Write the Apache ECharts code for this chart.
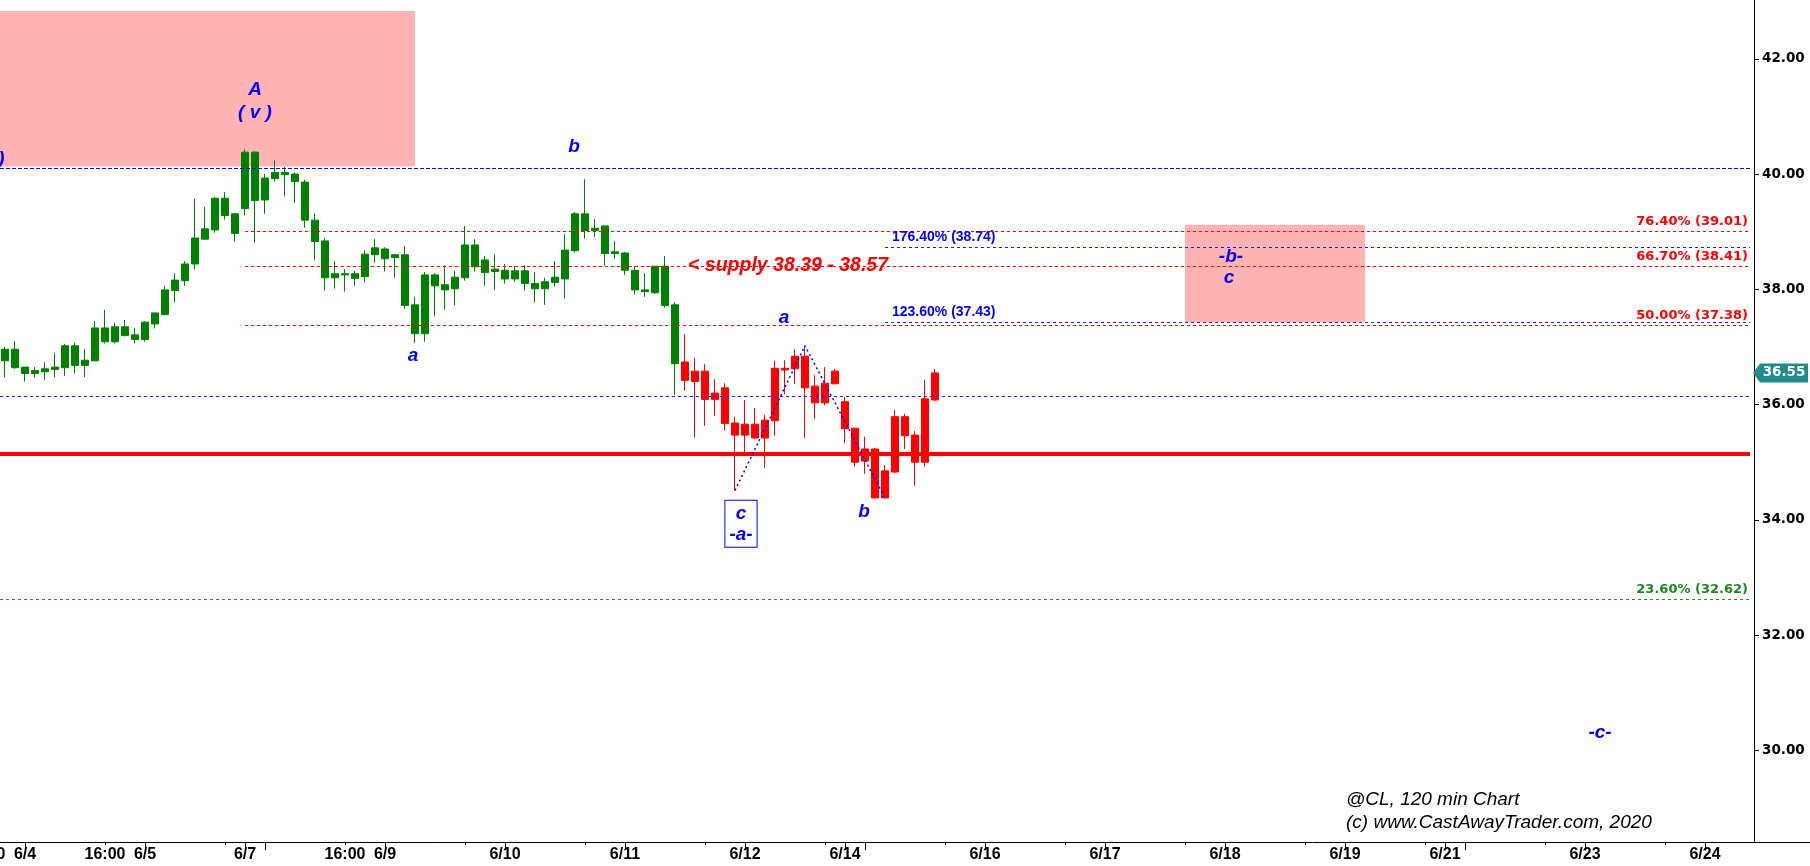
<!DOCTYPE html>
<html><head><meta charset="utf-8">
<script src="https://cdn.jsdelivr.net/npm/echarts@6/dist/echarts.min.js"></script>
<style>html,body{margin:0;padding:0;background:#fff;}#c{width:1810px;height:866px;}</style>
</head><body><div id="c"></div>
<script>
// ---------- data ----------
const SLOT_COUNT = 175;
const tickLabels = [[2,'6/4'],[10,'16:00'],[14,'6/5'],[24,'6/7'],[34,'16:00'],[38,'6/9'],[50,'6/10'],[62,'6/11'],[74,'6/12'],[84,'6/14'],[98,'6/16'],[110,'6/17'],[122,'6/18'],[134,'6/19'],[144,'6/21'],[158,'6/23'],[170,'6/24']];
const offAxisLabels = [[-2,'16:00']];
const majorTicks = [2,14,24,26,38,50,62,74,84,86,98,110,122,134,144,146,158,170];
const minorTicks = [10,22,34,46,58,70,82,94,106,118,130,142,154,166];
const yTicks = [30,32,34,36,38,40,42];

const openV  = [36.76,36.96,36.65,36.54,36.57,36.61,36.64,37.02,36.68,36.76,37.33,37.09,37.35,37.21,37.13,37.40,37.56,37.98,38.15,38.44,38.87,39.03,39.58,39.31,39.40,40.38,39.55,39.92,40.03,40.00,39.86,39.20,38.84,38.20,38.27,38.27,38.22,38.60,38.70,38.55,38.60,37.73,37.23,38.25,38.08,38.01,38.20,38.77,38.29,38.31,38.33,38.18,38.32,38.10,38.01,38.12,38.18,38.67,39.31,39.02,39.10,38.62,38.63,38.33,37.99,37.94,38.40,37.73,36.74,36.58,36.58,36.09,36.29,35.68,35.47,35.66,35.42,35.72,36.63,36.62,36.84,36.32,36.03,36.36,36.05,35.59,35.23,35.23,34.38,34.83,35.79,35.47,35.00,36.08];
const closeV = [36.96,36.64,36.54,36.59,36.62,36.65,37.02,36.68,36.77,37.33,37.09,37.35,37.20,37.13,37.43,37.59,37.99,38.16,38.44,38.89,39.05,39.58,39.28,38.97,40.38,39.54,39.93,40.03,39.99,39.87,39.20,38.83,38.20,38.27,38.25,38.19,38.61,38.72,38.53,38.60,37.72,37.23,38.25,38.06,37.99,38.21,38.77,38.39,38.51,38.35,38.18,38.32,38.10,38.01,38.13,38.21,38.68,39.31,39.02,39.06,38.62,38.65,38.33,37.99,37.96,38.40,37.72,36.71,36.42,36.40,36.09,36.20,35.67,35.47,35.66,35.42,35.73,36.63,36.60,36.84,36.29,36.03,36.37,36.58,35.58,35.00,35.02,34.38,34.85,35.79,35.46,35.00,36.10,36.55];
const lowV   = [36.47,36.62,36.40,36.47,36.43,36.47,36.50,36.54,36.48,36.76,37.06,37.06,37.18,37.06,37.09,37.32,37.56,37.77,38.06,38.34,38.86,38.98,39.21,38.83,39.28,38.81,39.31,39.87,39.61,39.50,39.07,38.50,37.98,38.01,37.96,38.06,38.12,38.46,38.31,38.20,37.66,37.07,37.09,37.53,37.65,37.72,38.15,38.31,38.06,37.99,38.10,38.13,37.98,37.77,37.73,38.05,37.84,38.64,38.88,38.91,38.41,38.53,38.25,37.91,37.87,37.92,37.68,36.17,36.24,35.43,35.63,35.81,35.55,34.51,35.11,35.40,34.90,35.46,36.18,36.36,35.42,35.75,35.99,36.36,35.33,34.92,34.80,34.38,34.38,34.81,35.23,34.59,34.92,36.06];
const highV  = [37.00,37.10,36.65,36.65,36.74,36.90,37.05,37.07,36.96,37.45,37.64,37.42,37.47,37.33,37.45,37.59,38.06,38.28,38.49,39.57,39.43,39.60,39.69,39.32,40.43,40.40,40.00,40.24,40.12,40.03,39.90,39.32,38.89,38.49,38.35,38.32,38.68,38.87,38.73,38.61,38.75,37.87,38.30,38.28,38.42,38.32,39.10,38.87,38.58,38.61,38.44,38.40,38.42,38.30,38.20,38.49,38.96,39.34,39.91,39.22,39.10,38.84,38.65,38.40,38.28,38.40,38.58,37.78,37.22,36.81,36.70,36.44,36.37,35.79,36.08,35.94,35.82,36.76,36.77,36.96,37.02,36.51,36.65,36.62,36.13,35.59,35.44,35.25,34.95,35.91,35.84,35.54,36.43,36.62];
const greenCount = 68;
const lastClose = 36.55;

const levelValues = [40.10, 39.01, 38.74, 38.41, 37.43, 37.38, 36.15, 35.15, 32.62];
const levelStart  = [-0.5, 24, 88, 24, 88, 24, -0.5, -0.5, -0.5];
const levelTexts  = ['', '76.40% (39.01)', '176.40% (38.74)', '66.70% (38.41)', '123.60% (37.43)', '50.00% (37.38)', '', '', '23.60% (32.62)'];

const zoneX0 = [-0.5, 118];
const zoneX1 = [41, 136];
const zoneLow = [40.13, 37.43];
const zoneHigh = [42.83, 39.12];

const noteTexts = [')', 'A', '( v )', 'b', 'a', 'a', 'b', '-b-', 'c', '-c-', 'c\n-a-', '< supply 38.39 - 38.57'];
const noteX = [-0.35, 25.0, 25.0, 56.9, 40.8, 77.9, 85.9, 122.6, 122.4, 159.5, 73.6, 68.3];
const noteY = [40.26, 41.47, 41.06, 40.47, 36.84, 37.50, 34.14, 38.56, 38.20, 30.30, 33.93, 38.41];

const zigX = [73, 80, 88];
const zigY = [34.51, 37.02, 34.38];

const copyright = ['@CL, 120 min Chart', '(c) www.CastAwayTrader.com, 2020'];

// ---------- build ----------
const categories = Array.from({length: SLOT_COUNT}, () => '');
tickLabels.forEach(([i, t]) => { categories[i] = t; });
const candles = openV.map((o, i) => [o, closeV[i], lowV[i], highV[i]]);
const empty = ['-', '-', '-', '-'];

const levelKinds = ['blueStrong','red','blue','red','blue','red','blue','redThick','green'];
const levelStyles = {
  blueStrong: {color: '#0000ff', width: 1, dash: [4, 2]},
  blue: {color: '#1a1aff', width: 1, dash: [3, 3]},
  red: {color: '#ff0000', width: 1, dash: [3, 3]},
  redThick: {color: '#ff0000', width: 4, dash: null},
  green: {color: '#3f7a3f', width: 1, dash: [3, 3]}
};
const levelLabelColor = ['', '#ff0000', '#0000ff', '#ff0000', '#0000ff', '#ff0000', '', '', '#1a8a1a'];

// x pixel of a (possibly fractional) category position, via the axis scale and band size
function xOf(api, idx) {
  const base = api.coord([0, 35])[0];
  const band = api.size([1, 0])[0];
  return base + idx * band;
}

const chart = echarts.init(document.getElementById('c'), null, {renderer: 'canvas'});
const waveFont = 'italic bold 19px "Liberation Sans", Arial, sans-serif';

const option = {
  animation: false,
  backgroundColor: '#ffffff',
  grid: {left: 0, right: 60, top: 0, bottom: 24, containLabel: false},
  xAxis: [
    {
      type: 'category', data: categories, boundaryGap: true, position: 'bottom',
      axisLine: {show: true, onZero: false, lineStyle: {color: '#000', width: 1}},
      axisTick: {show: true, alignWithLabel: true, length: 8, interval: (i) => majorTicks.includes(i), lineStyle: {color: '#000', width: 1}},
      axisLabel: {show: true, interval: 0, margin: 5, color: '#000', fontFamily: '"Liberation Sans", Arial', fontWeight: 'bold', fontSize: 16},
      splitLine: {show: false}
    },
    {
      type: 'category', data: categories, boundaryGap: true, position: 'bottom',
      axisLine: {show: false, onZero: false},
      axisTick: {show: true, alignWithLabel: true, length: 3, interval: (i) => minorTicks.includes(i), lineStyle: {color: '#000', width: 1}},
      axisLabel: {show: false},
      splitLine: {show: false}
    }
  ],
  yAxis: {
    type: 'value', position: 'right', offset: 4, min: 28.41, max: 43.02, scale: true,
    axisLine: {show: true, lineStyle: {color: '#000', width: 1}},
    axisTick: {show: true, inside: false, length: 5, customValues: yTicks, lineStyle: {color: '#000'}},
    axisLabel: {show: true, customValues: yTicks, margin: 8, color: '#000', fontFamily: '"DejaVu Sans", Verdana', fontWeight: 'bold', fontSize: 13.5, formatter: (v) => v.toFixed(2)},
    splitLine: {show: false}
  },
  graphic: [
    {type: 'line', silent: true, shape: {x1: 1750, y1: 842.5, x2: 1810, y2: 842.5}, style: {stroke: '#000', lineWidth: 1}},
    {type: 'text', silent: true, left: 1346, top: 790, style: {text: copyright[0], fill: '#000', font: 'italic 19px "Liberation Sans", Arial'}},
    {type: 'text', silent: true, left: 1346, top: 813, style: {text: copyright[1], fill: '#000', font: 'italic 19px "Liberation Sans", Arial'}}
  ],
  series: [
    {
      name: 'zones', type: 'custom', z: 1, silent: true,
      data: zoneX0.map((x0, i) => [x0, zoneLow[i], zoneX1[i], zoneHigh[i]]),
      renderItem(params, api) {
        const cs = params.coordSys;
        const xa = Math.max(cs.x, xOf(api, api.value(0)));
        const xb = xOf(api, api.value(2));
        const ya = api.coord([0, api.value(3)])[1];
        const yb = api.coord([0, api.value(1)])[1];
        return {type: 'rect', shape: {x: xa, y: ya, width: xb - xa, height: yb - ya}, style: {fill: '#ffb3b3'}};
      }
    },
    {
      name: 'green', type: 'candlestick', z: 3, barWidth: 7, silent: true,
      data: candles.map((c, i) => i < greenCount ? c : empty),
      itemStyle: {color: '#008000', color0: '#008000', borderColor: '#008000', borderColor0: '#008000', borderWidth: 1}
    },
    {
      name: 'red', type: 'candlestick', z: 3, barWidth: 7, silent: true,
      data: candles.map((c, i) => i >= greenCount ? c : empty),
      itemStyle: {color: '#ff0000', color0: '#ff0000', borderColor: '#ff0000', borderColor0: '#ff0000', borderWidth: 1}
    },
    {
      name: 'levels', type: 'custom', z: 5, silent: true,
      data: levelValues.map((v, i) => [levelStart[i], v]),
      renderItem(params, api) {
        const i = params.dataIndex;
        const cs = params.coordSys;
        const x1 = Math.max(cs.x, xOf(api, api.value(0)));
        const py = api.coord([0, api.value(1)])[1];
        const st = levelStyles[levelKinds[i]];
        const y = st.width % 2 === 1 ? Math.round(py) + 0.5 : Math.round(py);
        const x2 = cs.x + cs.width;
        const children = [{type: 'line', shape: {x1: x1, y1: y, x2: x2, y2: y}, style: {stroke: st.color, lineWidth: st.width, lineDash: st.dash}}];
        const t = levelTexts[i];
        if (t) {
          const left = t.startsWith('1');
          children.push({
            type: 'text', x: left ? x1 + 7 : x2 - 2, y: y - 3,
            style: {text: t, fill: levelLabelColor[i], align: left ? 'left' : 'right', verticalAlign: 'bottom',
              font: left ? 'bold 14px "Liberation Sans", Arial' : 'bold 13px "DejaVu Sans", Verdana'}
          });
        }
        return {type: 'group', children};
      }
    },
    {
      name: 'zigzag', type: 'line', z: 6, silent: true, symbol: 'none',
      data: zigX.map((x, i) => [x, zigY[i]]),
      lineStyle: {color: '#0000ff', width: 1.5, type: [2, 3]}
    },
    {
      name: 'notes', type: 'custom', z: 7, silent: true,
      data: noteX.map((x, i) => [x, noteY[i]]),
      renderItem(params, api) {
        const i = params.dataIndex;
        const x = xOf(api, api.value(0));
        const y = api.coord([0, api.value(1)])[1];
        const t = noteTexts[i];
        if (t.startsWith('<')) {
          return {type: 'text', x: x, y: y, style: {text: t, fill: '#ff0000', align: 'left', verticalAlign: 'middle', font: 'italic bold 19.5px "Liberation Sans", Arial'}};
        }
        if (t.indexOf('\n') >= 0) {
          return {type: 'text', x: x, y: y, style: {text: t, fill: '#0000ff', align: 'center', verticalAlign: 'middle', font: waveFont, lineHeight: 21, padding: [2, 4, 2, 4], borderColor: '#0000ff', borderWidth: 1, backgroundColor: '#ffffff'}};
        }
        return {type: 'text', x: x, y: y, style: {text: t, fill: '#0000ff', align: 'center', verticalAlign: 'middle', font: waveFont}};
      }
    },
    {
      name: 'edgeLabels', type: 'custom', z: 7, silent: true,
      data: offAxisLabels.map(([i]) => [i, 30]),
      renderItem(params, api) {
        const cs = params.coordSys;
        const x = xOf(api, api.value(0));
        return {type: 'text', x: x, y: cs.y + cs.height + 5, style: {text: offAxisLabels[params.dataIndex][1], fill: '#000', align: 'center', verticalAlign: 'top', font: 'bold 16px "Liberation Sans", Arial'}};
      }
    },
    {
      name: 'price', type: 'custom', z: 8, silent: true,
      data: [[SLOT_COUNT - 1, lastClose]],
      renderItem(params, api) {
        const cs = params.coordSys;
        const y = api.coord([0, api.value(1)])[1];
        const xr = cs.x + cs.width + 3;
        return {type: 'group', children: [
          {type: 'polygon', shape: {points: [[xr, y], [xr + 7, y - 9.5], [xr + 55, y - 9.5], [xr + 55, y + 9.5], [xr + 7, y + 9.5]]}, style: {fill: '#1e8c8c'}},
          {type: 'text', x: xr + 31, y: y, style: {text: lastClose.toFixed(2), fill: '#ffffff', align: 'center', verticalAlign: 'middle', font: 'bold 13.5px "DejaVu Sans", Verdana'}}
        ]};
      }
    }
  ]
};
chart.setOption(option);
</script>
</body></html>
